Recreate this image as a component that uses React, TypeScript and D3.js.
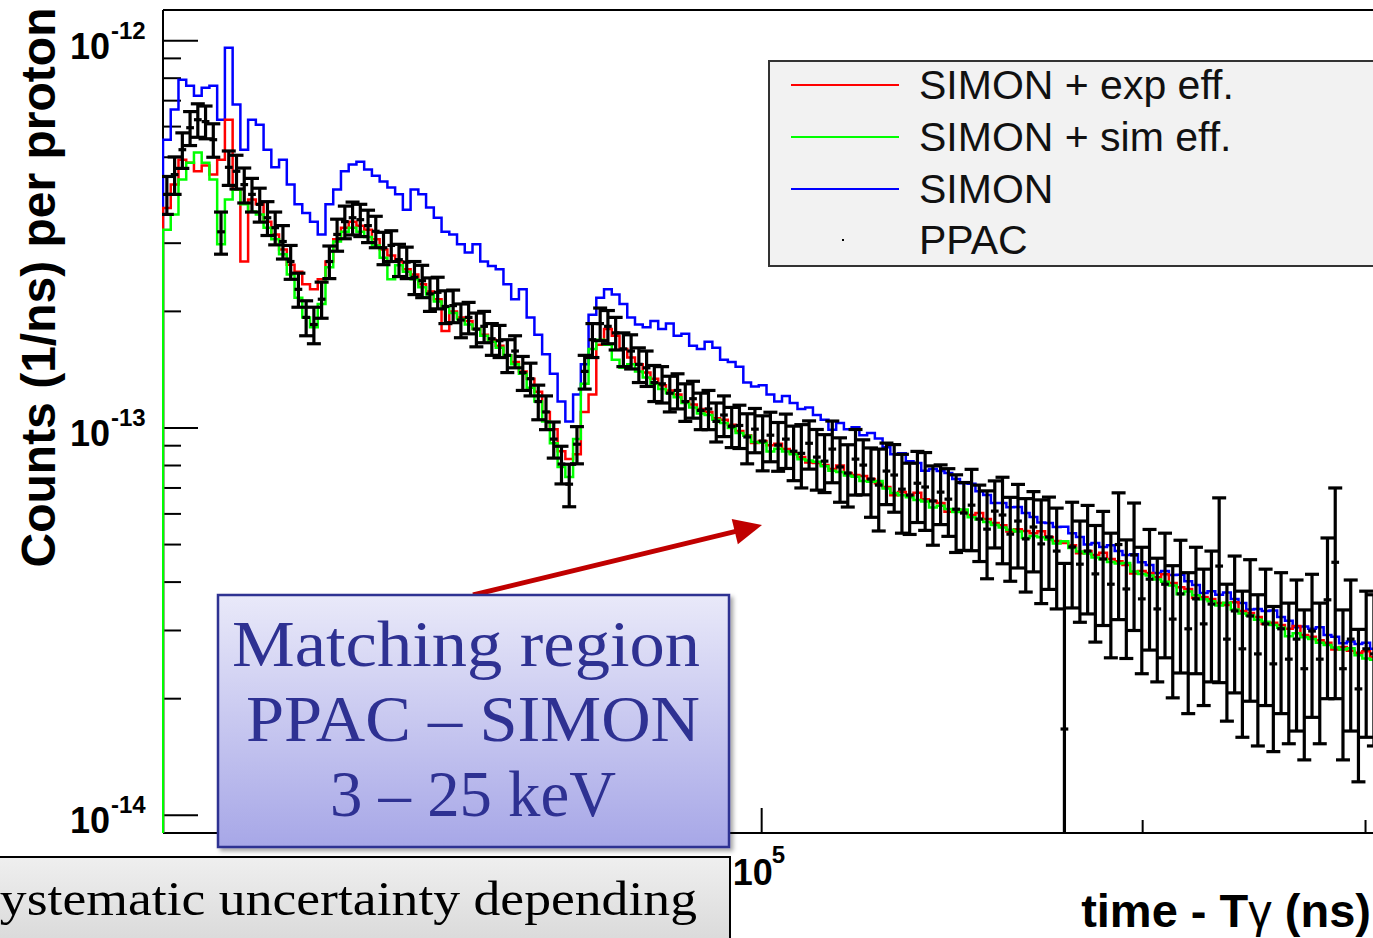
import React from 'react';
import * as d3 from 'd3';

// ---- canvas / frame -------------------------------------------------------
const WIDTH = 1373;
const HEIGHT = 938;
const FRAME = { left: 163, right: 1401, top: 10, bottom: 833 };

// time axis (ns after the gamma flash) and counts axis (1/ns per proton)
const T_MIN = 3.365e4;
const T_MAX = 3.2e5;
const Y_MIN = 9e-15;
const Y_MAX = 1.2e-12;
const N_BINS = 160;
const UNIT = 1e-15; // all count arrays below are in units of 1e-15 /ns /proton

// ---- data -----------------------------------------------------------------
const ppacCounts = [
  401, 451, 523, 596, 625, 618, 555, 321, 471, 460,
  425, 401, 378, 349, 329, 303, 269, 228, 193, 185,
  215, 269, 316, 341, 349, 345, 333, 322, 292, 296,
  272, 268, 245, 240, 222, 224, 206, 207, 190, 193,
  180, 183, 170, 168, 154, 158, 139, 134, 117, 110,
  93.6, 80.7, 71.6, 90.8, 140, 169, 186, 183, 176, 160,
  158, 146, 143, 131, 130, 123, 125, 117, 119, 111,
  112, 104, 108, 101, 101.5, 94.8, 99.3, 92.5, 95.8, 90.3,
  93.6, 87.1, 86.0, 91.3, 84.1, 82.1, 88.2, 79.3, 76.5, 83.1,
  80.2, 73.8, 71.2, 77.4, 75.6, 69.5, 67.1, 72.0, 70.4, 64.8,
  68.3, 65.5, 61.7, 60.3, 63.2, 58.2, 54.8, 61.0, 59.6, 53.2,
  57.5, 51.7, 55.5, 50.2, 52.3, 48.1, 16.7, 49.3, 44.5, 48.1,
  42.0, 45.9, 39.5, 50.0, 38.4, 47.0, 36.2, 40.7, 34.1, 39.5,
  32.1, 37.3, 30.3, 36.2, 31.2, 35.1, 44.0, 28.5, 33.7, 26.9,
  32.7, 26.1, 31.2, 24.6, 30.3, 25.3, 28.5, 23.9, 29.9, 25.3,
  36.0, 45.0, 23.9, 28.5, 21.2, 26.9, 26.1, 25.3, 24.6, 23.9,
];

const ppacErrors = [
  45, 50, 55, 60, 62, 60, 55, 40, 48, 46,
  44, 40, 38, 35, 32, 30, 27, 23, 20, 20,
  23, 26, 30, 33, 34, 33, 32, 30, 28, 27,
  26, 25, 24, 23, 22, 21, 20, 20, 19, 18,
  18, 17, 16, 16, 15, 15, 14, 13, 12, 11,
  10, 9, 9, 10, 14, 17, 18, 18, 17, 16,
  16, 15, 15, 14, 14, 13, 13, 13, 13, 12,
  13, 12, 13, 12, 13, 14, 13, 15, 14, 13,
  15, 14, 16, 13, 15, 14, 16, 15, 14, 16,
  13, 15, 17, 14, 15, 16, 14, 15, 16, 15,
  12, 13, 14, 12, 15, 13, 14, 12, 15, 13,
  14, 14, 13, 15, 14, 14, 28, 15, 13, 15,
  14, 15, 14, 18, 13, 17, 13, 14, 12, 14,
  12, 14, 12, 13, 12, 13, 22, 11, 13, 11,
  13, 11, 12, 10, 12, 10, 12, 10, 12, 10,
  16, 25, 10, 12, 9, 11, 11, 10, 10, 10,
];

const simonCounts = [
  555, 664, 793, 765, 721, 756, 765, 625, 959, 684,
  523, 625, 607, 523, 471, 493, 425, 378, 359, 341,
  316, 378, 413, 460, 479, 487, 465, 448, 433, 418,
  401, 366, 413, 401, 371, 349, 321, 316, 298, 284,
  298, 269, 262, 257, 235, 215, 228, 193, 174, 155,
  138, 117, 104, 122, 146, 196, 217, 228, 221, 209,
  193, 185, 182, 189, 180, 186, 173, 175, 163, 160,
  167, 161, 150, 148, 144, 131, 128, 129, 122, 117,
  121, 116, 112, 113, 108, 105, 99, 103, 99.3, 100.5,
  95.8, 97.0, 94.0, 89.2, 85.6, 86.0, 82.1, 81.2, 77.5, 78.3,
  77.4, 76.5, 73.8, 72.0, 71.8, 68.6, 67.1, 64.0, 64.0, 62.4,
  62.5, 60.3, 58.9, 57.0, 56.8, 55.5, 55.6, 53.5, 52.3, 50.0,
  50.5, 49.3, 49.8, 48.1, 47.0, 47.2, 45.0, 44.3, 42.2, 42.7,
  41.7, 41.8, 40.2, 39.3, 37.5, 37.9, 37.1, 37.6, 36.2, 35.3,
  34.0, 34.1, 33.7, 33.8, 32.5, 31.8, 30.6, 30.7, 30.3, 30.6,
  29.2, 28.9, 27.8, 28.1, 27.7, 27.9, 26.9, 26.5, 26.1, 25.6,
];

const simonExpEffCounts = [
  370, 425, 493, 484, 460, 476, 451, 493, 625, 413,
  269, 389, 378, 341, 316, 289, 264, 253, 235, 228,
  242, 269, 307, 329, 341, 333, 325, 307, 289, 279,
  269, 257, 249, 235, 225, 215, 178, 200, 193, 189,
  180, 174, 169, 163, 154, 148, 140, 134, 124, 110,
  99.3, 87.1, 83.1, 85.6, 110, 122, 164, 180, 173, 160,
  152, 146, 139, 134, 129, 125, 122, 117, 115, 112,
  110, 106, 105, 102, 98.2, 95.8, 91.5, 92.5, 90.3, 91.0,
  88.2, 86.1, 84.1, 81.5, 81.2, 80.2, 78.3, 80.0, 76.5, 75.6,
  75.2, 73.8, 72.0, 70.4, 67.0, 68.3, 67.1, 68.0, 65.5, 64.8,
  64.0, 60.8, 61.7, 61.0, 59.6, 60.3, 58.2, 56.8, 56.1, 54.0,
  54.8, 54.2, 53.5, 54.1, 52.3, 51.1, 50.5, 49.8, 47.5, 48.1,
  47.0, 47.6, 45.9, 45.3, 44.3, 42.1, 42.7, 42.2, 41.2, 41.9,
  39.8, 38.8, 38.4, 36.4, 36.6, 36.2, 35.3, 34.9, 35.5, 33.7,
  33.3, 32.5, 31.2, 31.4, 31.0, 30.3, 30.8, 29.2, 28.9, 28.3,
  27.9, 26.8, 27.2, 26.6, 26.3, 26.5, 25.6, 25.3, 24.8, 24.4,
];

const simonSimEffCounts = [
  325, 356, 438, 484, 514, 484, 438, 298, 389, 413,
  378, 362, 356, 329, 307, 281, 249, 217, 193, 182,
  209, 260, 303, 321, 329, 321, 311, 296, 275, 242,
  263, 253, 242, 231, 221, 212, 205, 198, 191, 185,
  180, 173, 167, 161, 154, 146, 138, 127, 117, 104,
  91.3, 79.3, 74.7, 93.6, 130, 160, 169, 164, 150, 143,
  146, 140, 135, 130, 126, 123, 120, 116, 113, 109,
  108, 105, 103, 100, 97.0, 95.5, 92.0, 91.6, 87.0, 88.4,
  87.0, 85.5, 83.0, 82.4, 81.8, 79.6, 77.5, 77.0, 75.4, 74.8,
  73.0, 72.6, 73.0, 69.8, 67.9, 67.0, 66.2, 65.2, 64.6, 62.3,
  63.0, 61.8, 60.7, 61.6, 58.8, 58.0, 57.2, 56.2, 55.3, 54.6,
  54.0, 52.0, 52.6, 52.2, 51.5, 50.3, 51.0, 49.0, 48.0, 47.4,
  46.3, 45.8, 45.1, 44.7, 44.8, 42.6, 42.0, 41.6, 40.6, 40.1,
  39.2, 37.2, 37.8, 37.0, 36.1, 35.7, 34.8, 35.4, 34.0, 33.2,
  32.8, 32.0, 31.6, 31.0, 30.5, 29.0, 29.5, 28.8, 28.5, 27.9,
  27.5, 27.1, 26.8, 27.0, 25.9, 25.4, 25.2, 24.9, 24.4, 24.0,
];

const legendEntries = [
  { label: 'SIMON + exp eff.', color: '#ff0000', kind: 'line' },
  { label: 'SIMON + sim eff.', color: '#00ff00', kind: 'line' },
  { label: 'SIMON', color: '#0000ff', kind: 'line' },
  { label: 'PPAC', color: '#000000', kind: 'dot' },
];

const yDecadeExponents = [-14, -13, -12];
const xDecadeExponents = [5];
const minorMultipliers = [2, 3, 4, 5, 6, 7, 8, 9];

const annotationLines = ['Matching region', 'PPAC \u2013 SIMON', '3 \u2013 25 keV'];
const footnoteText = 'Systematic uncertainty depending';

// ---- scales ---------------------------------------------------------------
const x = d3.scaleLog().domain([T_MIN, T_MAX]).range([FRAME.left, FRAME.right]);
const y = d3.scaleLog().domain([Y_MIN, Y_MAX]).range([FRAME.bottom, FRAME.top]);

const edges = d3.range(N_BINS + 1).map((i) => T_MIN * Math.pow(T_MAX / T_MIN, i / N_BINS));

const stepLine = d3
  .line<[number, number]>()
  .x((d) => x(d[0]))
  .y((d) => y(d[1]))
  .curve(d3.curveStepAfter);

function histPath(values: number[]): string {
  const n = Math.min(values.length, N_BINS);
  const pts: [number, number][] = [[edges[0], Y_MIN]];
  for (let i = 0; i < n; i++) pts.push([edges[i], values[i] * UNIT]);
  pts.push([edges[n], values[n - 1] * UNIT]);
  return stepLine(pts) || '';
}

const SANS = "'Liberation Sans', Arial, Helvetica, sans-serif";
const SERIF = "'Liberation Serif', 'DejaVu Serif', serif";

function PpacErrorBars() {
  const n = Math.min(ppacCounts.length, ppacErrors.length, N_BINS);
  const capHalf = 7;
  const items = [];
  for (let i = 0; i < n; i++) {
    const v = ppacCounts[i] * UNIT;
    const e = ppacErrors[i] * UNIT;
    const xc = x(Math.sqrt(edges[i] * edges[i + 1]));
    const yv = y(v);
    const hiVal = v + e;
    const loVal = v - e;
    const yHi = y(Math.min(hiVal, Y_MAX));
    const loClipped = loVal <= Y_MIN;
    const yLo = loClipped ? FRAME.bottom : y(loVal);
    items.push(
      <g key={i}>
        <line x1={x(edges[i])} x2={x(edges[i + 1])} y1={yv} y2={yv} />
        <line x1={xc} x2={xc} y1={yLo} y2={yHi} />
        <line x1={xc - capHalf} x2={xc + capHalf} y1={yHi} y2={yHi} />
        {!loClipped && <line x1={xc - capHalf} x2={xc + capHalf} y1={yLo} y2={yLo} />}
      </g>
    );
  }
  return (
    <g stroke="#000" strokeWidth={3.2} fill="none">
      {items}
    </g>
  );
}

function Axes() {
  const yTicks: { v: number; major: boolean }[] = [];
  for (let e = -15; e <= -12; e++) {
    yTicks.push({ v: Math.pow(10, e), major: true });
    minorMultipliers.forEach((m) => yTicks.push({ v: m * Math.pow(10, e), major: false }));
  }
  const yIn = yTicks.filter((t) => t.v >= Y_MIN * 0.999 && t.v <= Y_MAX);

  const xTicks: { v: number; major: boolean }[] = [];
  for (let e = 4; e <= 5; e++) {
    xTicks.push({ v: Math.pow(10, e), major: true });
    minorMultipliers.forEach((m) => xTicks.push({ v: m * Math.pow(10, e), major: false }));
  }
  const xIn = xTicks.filter((t) => t.v >= T_MIN && t.v <= T_MAX);

  return (
    <g>
      <g stroke="#000" strokeWidth={2} fill="none">
        <line x1={FRAME.left} x2={FRAME.right} y1={FRAME.top} y2={FRAME.top} />
        <line x1={FRAME.left} x2={FRAME.right} y1={FRAME.bottom} y2={FRAME.bottom} />
        <line x1={FRAME.left} x2={FRAME.left} y1={FRAME.top} y2={FRAME.bottom} />
        <line x1={FRAME.right} x2={FRAME.right} y1={FRAME.top} y2={FRAME.bottom} />
        {yIn.map((t, i) => (
          <line key={'y' + i} x1={FRAME.left} x2={FRAME.left + (t.major ? 35 : 18)} y1={y(t.v)} y2={y(t.v)} />
        ))}
        {xIn.map((t, i) => (
          <line key={'x' + i} x1={x(t.v)} x2={x(t.v)} y1={FRAME.bottom} y2={FRAME.bottom - (t.major ? 25 : 13)} />
        ))}
      </g>
      <g fontFamily={SANS} fontWeight="bold" fill="#000">
        {yDecadeExponents.map((ex) => {
          const yy = y(Math.pow(10, ex));
          return (
            <g key={ex}>
              <text x={110} y={yy + 18} fontSize={36} textAnchor="end">10</text>
              <text x={111} y={yy - 2} fontSize={24}>{'-' + Math.abs(ex)}</text>
            </g>
          );
        })}
        {xDecadeExponents.map((ex) => {
          const xx = x(Math.pow(10, ex));
          return (
            <g key={ex}>
              <text x={xx - 29} y={885} fontSize={36}>10</text>
              <text x={xx + 10} y={863} fontSize={24}>{String(ex)}</text>
            </g>
          );
        })}
        <text
          transform={`translate(55, ${(FRAME.top + 565) / 2}) rotate(-90)`}
          textAnchor="middle"
          fontSize={48}
        >
          Counts (1/ns) per proton
        </text>
        <text x={1371} y={927} textAnchor="end" fontSize={47}>
          time - T<tspan fontWeight="normal">{'\u03b3'}</tspan> (ns)
        </text>
      </g>
    </g>
  );
}

function Legend() {
  const rowY = [85, 137, 189, 240];
  return (
    <g>
      <rect x={769} y={61} width={700} height={205} fill="#f2f2f2" stroke="#333" strokeWidth={2} />
      {legendEntries.map((e, i) => (
        <g key={e.label}>
          {e.kind === 'line' ? (
            <line x1={791} x2={899} y1={rowY[i]} y2={rowY[i]} stroke={e.color} strokeWidth={2} />
          ) : (
            <rect x={842} y={rowY[i] - 1} width={2} height={2} fill={e.color} />
          )}
          <text x={919} y={rowY[i] + 14} fontFamily={SANS} fontSize={41} fill="#111">
            {e.label}
          </text>
        </g>
      ))}
    </g>
  );
}

function Annotations() {
  const tip = { x: 762, y: 525 };
  const tail = { x: 473, y: 595 };
  const dx = tip.x - tail.x;
  const dy = tip.y - tail.y;
  const len = Math.hypot(dx, dy);
  const ux = dx / len;
  const uy = dy / len;
  const headLen = 28;
  const headHalf = 13;
  const bx = tip.x - ux * headLen;
  const by = tip.y - uy * headLen;
  const head = `${tip.x},${tip.y} ${bx - uy * headHalf},${by + ux * headHalf} ${bx + uy * headHalf},${by - ux * headHalf}`;
  const lineWidths = [468, 454, 286];
  const lineX = [232, 246, 330];
  const lineY = [666, 741, 816];
  return (
    <g>
      <line x1={tail.x} y1={tail.y} x2={bx + ux * 2} y2={by + uy * 2} stroke="#c00000" strokeWidth={5} />
      <polygon points={head} fill="#c00000" />
      <rect x={218} y={595} width={511} height={252} fill="url(#boxGrad)" stroke="#2e3192" strokeWidth={2.5} filter="url(#boxShadow)" />
      {annotationLines.map((t, i) => (
        <text
          key={t}
          x={lineX[i]}
          y={lineY[i]}
          fontFamily={SERIF}
          fontSize={66}
          fill="#2e3192"
          textLength={lineWidths[i]}
          lengthAdjust="spacingAndGlyphs"
        >
          {t}
        </text>
      ))}
      <rect x={-10} y={857} width={740} height={100} fill="url(#noteGrad)" stroke="#000" strokeWidth={2} />
      <text x={-30} y={915} fontFamily={SERIF} fontSize={49} fill="#000" textLength={727} lengthAdjust="spacingAndGlyphs">
        {footnoteText}
      </text>
    </g>
  );
}

export default function App() {
  return (
    <svg
      width={WIDTH}
      height={HEIGHT}
      viewBox={`0 0 ${WIDTH} ${HEIGHT}`}
      style={{ position: 'absolute', left: 0, top: 0, background: '#fff' }}
    >
      <defs>
        <clipPath id="plotClip">
          <rect x={FRAME.left - 1} y={FRAME.top} width={FRAME.right - FRAME.left + 2} height={FRAME.bottom - FRAME.top} />
        </clipPath>
        <linearGradient id="boxGrad" x1="0" y1="0" x2="0" y2="1">
          <stop offset="0%" stopColor="#e9e9f9" />
          <stop offset="100%" stopColor="#a7a7e7" />
        </linearGradient>
        <linearGradient id="noteGrad" x1="0" y1="0" x2="0" y2="1">
          <stop offset="0%" stopColor="#efefef" />
          <stop offset="100%" stopColor="#d6d6d6" />
        </linearGradient>
        <filter id="boxShadow" x="-5%" y="-5%" width="115%" height="115%">
          <feDropShadow dx="3" dy="3" stdDeviation="2" floodColor="#000" floodOpacity="0.35" />
        </filter>
      </defs>
      <rect x={0} y={0} width={WIDTH} height={HEIGHT} fill="#fff" />
      <Axes />
      <g clipPath="url(#plotClip)" fill="none" strokeWidth={2.5} strokeLinejoin="miter">
        <path d={histPath(simonCounts)} stroke="#0000ff" />
        <path d={histPath(simonExpEffCounts)} stroke="#ff0000" />
        <path d={histPath(simonSimEffCounts)} stroke="#00ff00" />
        <PpacErrorBars />
      </g>
      <Legend />
      <Annotations />
    </svg>
  );
}
